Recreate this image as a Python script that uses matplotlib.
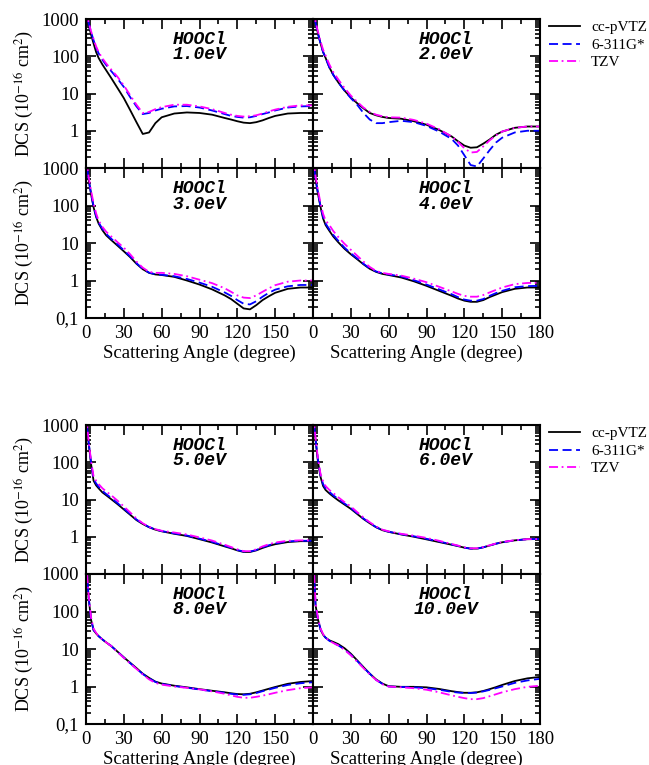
import numpy as np
import matplotlib
matplotlib.use("Agg")
import matplotlib.pyplot as plt
from matplotlib.ticker import LogLocator, MultipleLocator, NullFormatter

plt.rcParams['font.family'] = ['Liberation Serif', 'DejaVu Serif']
plt.rcParams['mathtext.fontset'] = 'stix'

# scattering angle grid (degree)
angle = [0, 1, 2, 4, 6, 8, 10, 13, 16, 20, 25, 30, 35, 40, 45, 50, 55, 60, 70, 80, 90,
         100, 110, 115, 120, 125, 130, 135, 140, 145, 150, 160, 170, 180]

basis = ['cc-pVTZ', '6-311G*', 'TZV']
energies = ['1.0eV', '2.0eV', '3.0eV', '4.0eV', '5.0eV', '6.0eV', '8.0eV', '10.0eV']

# DCS (10^-16 cm^2)
dcs_1_cc = [2000, 1200, 700, 380, 220, 130, 90, 60, 42, 26, 14, 7.5, 3.6, 1.7, 0.82, 0.9, 1.6, 2.3, 2.9, 3.1, 3.0,
            2.7, 2.2, 2.0, 1.8, 1.65, 1.6, 1.7, 1.9, 2.2, 2.5, 2.9, 3.0, 3.0]
dcs_1_631 = [2000, 1300, 800, 450, 270, 170, 120, 80, 58, 40, 25, 15, 8, 4.5, 2.8, 3.0, 3.5, 3.9, 4.5, 4.6, 4.2,
             3.5, 2.8, 2.5, 2.35, 2.25, 2.3, 2.5, 2.8, 3.1, 3.5, 4.2, 4.5, 4.6]
dcs_1_tzv = [2000, 1300, 820, 470, 290, 185, 130, 88, 64, 44, 28, 16.5, 9, 5, 3.0, 3.2, 3.8, 4.3, 5.0, 5.0, 4.5,
             3.8, 3.0, 2.7, 2.5, 2.4, 2.45, 2.6, 2.9, 3.3, 3.7, 4.4, 4.8, 4.8]

dcs_2_cc = [2000, 1200, 800, 400, 220, 130, 90, 50, 32, 20, 12, 7.8, 5.5, 4.0, 3.0, 2.6, 2.35, 2.2, 2.1, 1.8, 1.45,
            1.05, 0.7, 0.52, 0.4, 0.35, 0.36, 0.45, 0.58, 0.78, 0.95, 1.2, 1.3, 1.3]
dcs_2_631 = [2000, 1200, 800, 400, 220, 130, 90, 50, 32, 20, 12, 7.5, 5.0, 3.0, 2.0, 1.6, 1.6, 1.7, 1.85, 1.7, 1.35,
             0.95, 0.6, 0.4, 0.22, 0.12, 0.11, 0.18, 0.3, 0.48, 0.65, 0.9, 1.0, 1.0]
dcs_2_tzv = [2000, 1300, 850, 450, 250, 150, 105, 60, 38, 24, 14, 8.8, 6.0, 4.2, 3.2, 2.7, 2.45, 2.3, 2.25, 1.95, 1.55,
             1.1, 0.7, 0.5, 0.34, 0.26, 0.27, 0.38, 0.55, 0.75, 0.95, 1.2, 1.3, 1.3]

dcs_3_cc = [2000, 1000, 500, 200, 90, 50, 33, 22, 16, 12, 8.5, 6.0, 4.2, 2.8, 2.0, 1.6, 1.45, 1.4, 1.25, 1.0, 0.78,
            0.58, 0.4, 0.32, 0.24, 0.18, 0.17, 0.22, 0.3, 0.38, 0.47, 0.6, 0.65, 0.65]
dcs_3_631 = [2000, 1000, 520, 210, 95, 53, 35, 24, 17.5, 13, 9.2, 6.4, 4.4, 2.9, 2.05, 1.62, 1.47, 1.42, 1.3, 1.1, 0.88,
             0.68, 0.48, 0.39, 0.3, 0.24, 0.23, 0.28, 0.37, 0.47, 0.57, 0.7, 0.76, 0.76]
dcs_3_tzv = [2000, 1100, 600, 250, 115, 62, 40, 27, 20, 15, 10.5, 7.5, 5.0, 3.2, 2.2, 1.7, 1.6, 1.6, 1.5, 1.3, 1.05,
             0.85, 0.62, 0.5, 0.4, 0.35, 0.34, 0.4, 0.5, 0.62, 0.75, 0.93, 1.0, 1.0]

dcs_4_cc = [2000, 1000, 500, 200, 90, 45, 30, 21, 15, 10.5, 7, 5.0, 3.7, 2.7, 2.05, 1.7, 1.5, 1.4, 1.2, 0.95, 0.72,
            0.53, 0.39, 0.33, 0.29, 0.27, 0.27, 0.3, 0.36, 0.42, 0.49, 0.6, 0.65, 0.65]
dcs_4_631 = [2000, 1000, 520, 210, 95, 50, 33, 23, 16.5, 11.5, 7.5, 5.3, 3.9, 2.8, 2.1, 1.75, 1.55, 1.45, 1.28, 1.02, 0.78,
             0.58, 0.43, 0.36, 0.31, 0.29, 0.29, 0.32, 0.39, 0.46, 0.53, 0.66, 0.71, 0.72]
dcs_4_tzv = [2000, 1100, 600, 250, 115, 60, 40, 30, 21, 14.5, 9.5, 6.6, 4.6, 3.2, 2.3, 1.8, 1.6, 1.5, 1.35, 1.12, 0.9,
             0.68, 0.51, 0.44, 0.39, 0.37, 0.37, 0.41, 0.48, 0.56, 0.65, 0.8, 0.86, 0.87]

dcs_5_cc = [2000, 800, 350, 90, 32, 24, 20, 15.5, 13, 10.2, 7.5, 5.4, 3.9, 2.8, 2.2, 1.8, 1.55, 1.4, 1.2, 1.05, 0.86,
            0.7, 0.55, 0.49, 0.43, 0.39, 0.39, 0.43, 0.5, 0.57, 0.63, 0.72, 0.76, 0.76]
dcs_5_631 = [2000, 820, 370, 100, 36, 27, 22, 17, 14, 11, 8, 5.7, 4.1, 2.9, 2.25, 1.82, 1.57, 1.42, 1.23, 1.08, 0.89,
             0.73, 0.57, 0.51, 0.44, 0.4, 0.4, 0.44, 0.52, 0.59, 0.66, 0.75, 0.78, 0.78]
dcs_5_tzv = [2000, 850, 400, 110, 42, 32, 26, 20, 16.5, 13, 9.3, 6.5, 4.5, 3.1, 2.3, 1.85, 1.6, 1.45, 1.3, 1.15, 0.96,
             0.79, 0.61, 0.53, 0.46, 0.41, 0.41, 0.46, 0.55, 0.63, 0.7, 0.78, 0.8, 0.8]

dcs_6_cc = [2000, 900, 400, 100, 40, 23, 18, 14.5, 12, 9.5, 7.3, 5.6, 4.1, 3.0, 2.3, 1.8, 1.5, 1.35, 1.15, 1.0, 0.85,
            0.72, 0.61, 0.56, 0.51, 0.48, 0.48, 0.52, 0.58, 0.65, 0.71, 0.8, 0.86, 0.87]
dcs_6_631 = [2000, 920, 420, 110, 44, 26, 20, 16, 13, 10.3, 7.8, 5.9, 4.3, 3.1, 2.35, 1.82, 1.52, 1.37, 1.17, 1.03, 0.88,
             0.75, 0.62, 0.57, 0.51, 0.48, 0.48, 0.52, 0.58, 0.65, 0.71, 0.8, 0.86, 0.87]
dcs_6_tzv = [2000, 950, 450, 120, 48, 31, 23, 18, 15, 11.5, 8.5, 6.5, 4.6, 3.3, 2.45, 1.9, 1.55, 1.4, 1.2, 1.07, 0.93,
             0.78, 0.64, 0.58, 0.52, 0.49, 0.49, 0.53, 0.59, 0.66, 0.72, 0.81, 0.86, 0.87]

dcs_8_cc = [3000, 800, 250, 60, 32, 26, 22, 18, 15, 12, 8.5, 6.0, 4.3, 3.1, 2.2, 1.7, 1.35, 1.2, 1.05, 0.95, 0.85,
            0.77, 0.7, 0.66, 0.63, 0.62, 0.64, 0.7, 0.78, 0.87, 0.97, 1.18, 1.32, 1.4]
dcs_8_631 = [3000, 800, 260, 62, 32, 26, 22, 18, 15, 12, 8.4, 5.9, 4.2, 3.0, 2.15, 1.65, 1.32, 1.17, 1.03, 0.93, 0.83,
             0.75, 0.68, 0.64, 0.61, 0.6, 0.62, 0.67, 0.75, 0.83, 0.92, 1.1, 1.22, 1.3]
dcs_8_tzv = [3000, 850, 300, 70, 35, 27, 22, 18, 15, 12, 8.3, 5.8, 4.1, 2.95, 2.1, 1.55, 1.25, 1.12, 1.0, 0.92, 0.84,
             0.74, 0.64, 0.58, 0.53, 0.5, 0.5, 0.53, 0.57, 0.62, 0.68, 0.8, 0.9, 0.95]

dcs_10_cc = [3000, 800, 150, 60, 33, 24, 20, 17, 15.5, 13.5, 10.5, 7.5, 5.0, 3.3, 2.2, 1.55, 1.2, 1.02, 0.98, 0.98, 0.95,
             0.86, 0.75, 0.71, 0.68, 0.68, 0.7, 0.76, 0.85, 0.96, 1.1, 1.4, 1.65, 1.8]
dcs_10_631 = [3000, 800, 150, 60, 33, 24, 20, 16.5, 14.5, 12.5, 9.8, 7.0, 4.8, 3.2, 2.2, 1.5, 1.18, 1.0, 0.97, 0.95, 0.9,
              0.82, 0.72, 0.69, 0.67, 0.67, 0.69, 0.74, 0.81, 0.9, 1.0, 1.25, 1.45, 1.6]
dcs_10_tzv = [3000, 850, 170, 65, 35, 25, 20, 16.5, 14.5, 12.5, 9.5, 6.8, 4.6, 3.1, 2.1, 1.5, 1.15, 1.0, 0.95, 0.9, 0.82,
              0.7, 0.58, 0.53, 0.49, 0.46, 0.46, 0.49, 0.55, 0.62, 0.7, 0.85, 0.98, 1.05]

panels = [
    (dcs_1_cc, dcs_1_631, dcs_1_tzv),
    (dcs_2_cc, dcs_2_631, dcs_2_tzv),
    (dcs_3_cc, dcs_3_631, dcs_3_tzv),
    (dcs_4_cc, dcs_4_631, dcs_4_tzv),
    (dcs_5_cc, dcs_5_631, dcs_5_tzv),
    (dcs_6_cc, dcs_6_631, dcs_6_tzv),
    (dcs_8_cc, dcs_8_631, dcs_8_tzv),
    (dcs_10_cc, dcs_10_631, dcs_10_tzv),
]

colors = ['black', '#0000ff', '#ff00ff']
styles = ['-', (0, (5, 2.5)), (0, (5, 2, 1, 2))]

W, H = 649, 765
fig = plt.figure(figsize=(W / 100, H / 100), dpi=100)

cols = [(86, 313), (313, 540)]
rows = [(19, 168), (168, 318), (425, 574), (574, 724)]

fs = 13.5
for i, (data, en) in enumerate(zip(panels, energies)):
    r, c = divmod(i, 2)
    x0, x1 = cols[c]
    y0, y1 = rows[r]
    ax = fig.add_axes([x0 / W, 1 - y1 / H, (x1 - x0) / W, (y1 - y0) / H])
    for vals, col, ls, lab in zip(data, colors, styles, basis):
        ax.plot(angle, vals, color=col, linestyle=ls, lw=1.3, label=lab)
    ax.set_yscale('log')
    ax.set_xlim(0, 180)
    ax.set_ylim(0.1, 1000)
    ax.xaxis.set_major_locator(MultipleLocator(30))
    ax.xaxis.set_minor_locator(MultipleLocator(15))
    ax.yaxis.set_major_locator(LogLocator(base=10, numticks=10))
    ax.yaxis.set_minor_locator(LogLocator(base=10, subs=np.arange(2, 10), numticks=10))
    ax.tick_params(which='both', direction='in', top=True, right=True, labelsize=fs, width=1.2)
    ax.tick_params(which='major', length=7, pad=5)
    ax.tick_params(which='minor', length=3.5)
    for sp in ax.spines.values():
        sp.set_linewidth(1.5)

    bottom_row = (r % 2 == 1)
    if c == 0:
        ylabs = {1000: '1000', 100: '100', 10: '10', 1: '1', 0.1: '0,1' if bottom_row else ''}
        ax.yaxis.set_major_formatter(plt.FuncFormatter(lambda v, p, d=ylabs: d.get(round(v, 1) if v < 1 else round(v), '')))
        ax.set_ylabel('DCS (10$^{-16}$ cm$^{2}$)', fontsize=13)
        ax.yaxis.set_label_coords(-0.22, 0.5)
    else:
        ax.yaxis.set_major_formatter(NullFormatter())
    ax.yaxis.set_minor_formatter(NullFormatter())

    if bottom_row:
        if c == 0:
            ax.set_xticks([0, 30, 60, 90, 120, 150, 180])
            ax.set_xticklabels(['0', '30', '60', '90', '120', '150', ''])
        ax.set_xlabel('Scattering Angle (degree)', fontsize=fs, labelpad=2)
    else:
        ax.xaxis.set_major_formatter(NullFormatter())

    tx = 0.5 if c == 0 else 0.585
    ax.text(tx, 0.865, 'HOOCl', transform=ax.transAxes, ha='center', va='center',
            family='Liberation Mono', weight='bold', style='italic', fontsize=13)
    ax.text(tx, 0.76, en, transform=ax.transAxes, ha='center', va='center',
            family='Liberation Mono', weight='bold', style='italic', fontsize=13)

    if c == 1 and r % 2 == 0:
        ax.legend(loc='upper left', bbox_to_anchor=((543 - x0) / (x1 - x0), 1.03), frameon=False,
                  fontsize=11, handlelength=2.0, handletextpad=0.75, labelspacing=0.25,
                  borderaxespad=0)

fig.savefig('out.png', dpi=100)
